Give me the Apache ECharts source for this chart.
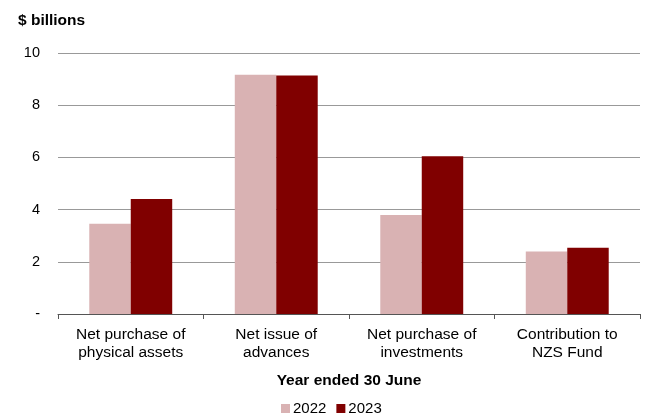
<!DOCTYPE html>
<html>
<head>
<meta charset="utf-8">
<script src="https://cdn.jsdelivr.net/npm/echarts@6/dist/echarts.min.js"></script>
<style>
  html, body { margin: 0; padding: 0; background: #fff; }
  #chart { width: 645px; height: 416px; }
</style>
</head>
<body>
<div id="chart"></div>
<script>
// Government cash outflows by purpose, $ billions
const categories = [
  'Net purchase of\nphysical assets',
  'Net issue of\nadvances',
  'Net purchase of\ninvestments',
  'Contribution to\nNZS Fund'
];
const values2022 = [3.46, 9.17, 3.79, 2.39];
const values2023 = [4.41, 9.14, 6.04, 2.54];
const yTicks = [0, 2, 4, 6, 8, 10];

const font = 'Liberation Sans, Arial, sans-serif';
const chart = echarts.init(document.getElementById('chart'), null, { renderer: 'canvas' });

chart.setOption({
  animation: false,
  textStyle: { fontFamily: font },
  title: {
    text: '$ billions',
    left: 13, top: 8,
    textStyle: { fontFamily: font, fontSize: 15.5, fontWeight: 'bold', color: '#000' }
  },
  legend: {
    top: 396,
    left: 276,
    itemWidth: 9, itemHeight: 9, itemGap: 10,
    icon: 'rect',
    textStyle: { fontFamily: font, fontSize: 15, color: '#000', padding: [0, 0, 0, -2] },
    data: ['2022', '2023']
  },
  grid: { left: 58, right: 5, top: 53, bottom: 102, containLabel: false },
  xAxis: {
    type: 'category',
    data: categories,
    name: 'Year ended 30 June',
    nameLocation: 'middle',
    nameGap: 59,
    nameTextStyle: { fontFamily: font, fontSize: 15.5, fontWeight: 'bold', color: '#000' },
    axisLine: { lineStyle: { color: '#555', width: 1 } },
    axisTick: { show: true, length: 5, inside: false, lineStyle: { color: '#555' } },
    axisLabel: { fontFamily: font, fontSize: 15.5, color: '#000', lineHeight: 18, margin: 12, interval: 0 }
  },
  yAxis: {
    type: 'value',
    min: 0, max: 10, interval: 2,
    axisLine: { show: false },
    axisTick: { show: false },
    splitLine: { lineStyle: { color: '#999', width: 1 } },
    axisLabel: {
      fontFamily: font, fontSize: 14.5, color: '#000', margin: 18,
      formatter: v => (yTicks.includes(v) ? (v === 0 ? '-' : String(v)) : '')
    }
  },
  series: [
    {
      name: '2022', type: 'bar', data: values2022,
      barGap: '0%', barCategoryGap: '43%',
      itemStyle: { color: '#D9B2B3' }
    },
    {
      name: '2023', type: 'bar', data: values2023,
      itemStyle: { color: '#800000' }
    }
  ]
});
</script>
</body>
</html>
